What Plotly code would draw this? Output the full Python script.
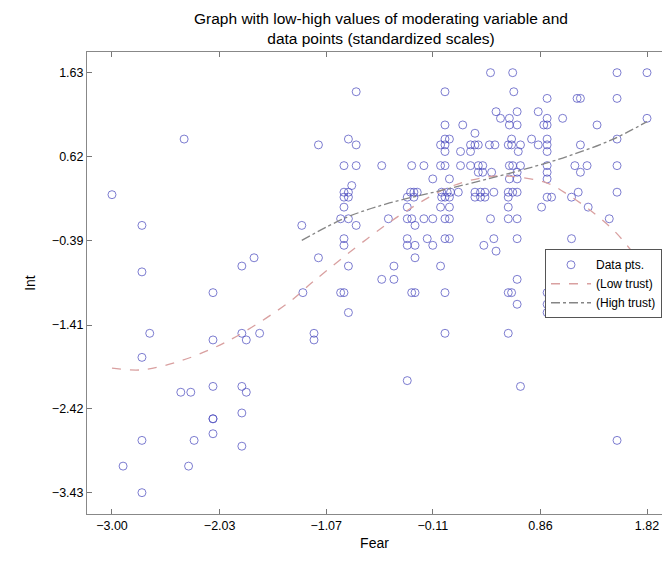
import plotly.graph_objects as go

# ---- Data (standardized scales) ----
fear = [
    0.41, 0.61, 1.55, 1.82,
    -0.80, 0.00, 0.62,
    0.92, 1.19, 1.22, 1.55,
    0.46, 0.65, 0.84,
    0.50, 0.58, 0.92, 1.06, 1.82,
    0.00, 0.16, 0.58, 0.65, 0.89, 0.92, 1.37,
    0.27,
    -2.35, -0.87, 0.00, 0.04, 0.60, 0.78, 0.92, 1.55,
    -1.14, -0.80, -0.04, 0.00, 0.23, 0.27, 0.30, 0.40, 0.45, 0.57, 0.60, 0.68, 0.84, 0.92, 1.22,
    0.00, 0.14, 0.23, 0.66, 0.92,
    -0.91, -0.80, -0.57, -0.30, -0.19, -0.04, 0.00, 0.14, 0.23, 0.30, 0.34, 0.58, 0.61, 0.68, 0.92, 1.17, 1.28, 1.55,
    0.30, 0.34, 0.42, 0.65, 0.92, 1.22,
    -0.11, 0.04, 0.58, 0.65, 0.92,
    -0.84,
    -3.00,
    -0.91, -0.87, -0.31, -0.28, -0.25, -0.03, 0.02, 0.05, 0.12, 0.27, 0.32, 0.36, 0.44, 0.57, 0.61, 0.65, 1.20, 1.55,
    -0.91, -0.87, -0.34, -0.28, -0.03, 0.00, 0.04, 0.27, 0.32, 0.36, 0.57, 0.92, 0.96, 1.14,
    -0.91, -0.34, -0.04, 0.04, 0.57, 0.87, 1.29,
    -0.94, -0.87, -0.51, -0.34, -0.30, -0.19, -0.11, 0.00, 0.04, 0.41, 0.57, 0.65, 1.48,
    -2.73, -1.29, -0.80, -0.27,
    -0.91, -0.34, -0.16, 0.00, 0.04, 0.44, 0.65, 1.14,
    -0.91, -0.34, -0.27, -0.11, 0.35,
    0.46,
    -1.72, -1.14, -0.27,
    -1.83, -0.87, -0.46, -0.04,
    -2.73,
    -0.57, -0.46, 0.65,
    -2.09, -1.28, -0.94, -0.91, -0.30, -0.27, 0.00, 0.57, 0.60, 0.92,
    0.65, 0.92,
    -0.87, 0.92, 1.48,
    -2.66, -1.83, -1.67, -1.18, 0.00, 0.57,
    -2.09, -1.79, -1.18,
    -2.73,
    -0.34,
    -2.09, -1.83, 0.68,
    -2.38, -2.29, -1.79,
    -1.83,
    -2.09, -2.09,
    -2.09,
    -2.73, -2.26, 1.55,
    -1.83,
    -2.90, -2.31,
    -2.73,
]
intent = (
    [1.63] * 4 + [1.40] * 3 + [1.32] * 4 + [1.16] * 3 + [1.08] * 5 + [1.00] * 7
    + [0.90] * 1 + [0.83] * 8 + [0.76] * 15 + [0.68] * 5 + [0.51] * 18 + [0.43] * 6
    + [0.35] * 5 + [0.27] * 1 + [0.16] * 1 + [0.19] * 18 + [0.13] * 14 + [0.01] * 7
    + [-0.13] * 13 + [-0.21] * 4 + [-0.37] * 8 + [-0.45] * 5 + [-0.52] * 1
    + [-0.60] * 3 + [-0.70] * 4 + [-0.77] * 1 + [-0.86] * 3 + [-1.02] * 10
    + [-1.16] * 2 + [-1.26] * 3 + [-1.51] * 6 + [-1.59] * 3 + [-1.80] * 1
    + [-2.08] * 1 + [-2.15] * 3 + [-2.22] * 3 + [-2.47] * 1 + [-2.54] * 2
    + [-2.72] * 1 + [-2.80] * 3 + [-2.87] * 1 + [-3.11] * 2 + [-3.43] * 1
)

# Moderation curves
low_x = [-3.00, -2.73, -2.40, -2.09, -1.83, -1.40, -1.19, -0.70, -0.34, 0.02,
         0.32, 0.55, 0.92, 1.13, 1.34, 1.52, 1.67, 1.82]
low_y = [-1.93, -1.95, -1.85, -1.69, -1.51, -1.13, -0.89, -0.37, -0.03, 0.24,
         0.36, 0.385, 0.30, 0.14, -0.06, -0.27, -0.50, -0.78]
high_x = [-1.29, -0.88, -0.50, -0.10, 0.30, 0.70, 1.10, 1.50, 1.82]
high_y = [-0.39, -0.11, 0.06, 0.19, 0.32, 0.46, 0.62, 0.82, 1.04]

tick_x = [-3.00, -2.03, -1.07, -0.11, 0.86, 1.82]
tick_y = [-3.43, -2.42, -1.41, -0.39, 0.62, 1.63]


def fmt(v):
    s = f"{abs(v):.2f}"
    return ("\u2212" + s) if v < 0 else s


FONT = "Liberation Sans, Arial, Helvetica, sans-serif"

fig = go.Figure()
fig.add_trace(go.Scatter(
    x=fear, y=intent, mode="markers", name="Data pts.",
    marker=dict(symbol="circle-open", size=8,
                color="rgba(75,75,190,0.72)", line=dict(width=1)),
))
fig.add_trace(go.Scatter(
    x=low_x, y=low_y, mode="lines", name="(Low trust)",
    line=dict(color="#d9a0a0", dash="dash", width=1.3, shape="spline"),
))
fig.add_trace(go.Scatter(
    x=high_x, y=high_y, mode="lines", name="(High trust)",
    line=dict(color="#858585", dash="dashdot", width=1.3, shape="spline"),
))

fig.update_layout(
    width=662, height=563,
    margin=dict(l=87, r=0, t=52, b=49, autoexpand=False),
    paper_bgcolor="white", plot_bgcolor="white",
    font=dict(family=FONT, size=13, color="black"),
    title=dict(
        text="Graph with low-high values of moderating variable and<br>data points (standardized scales)",
        x=381 / 662, xref="container", xanchor="center",
        y=1 - 24 / 563, yref="container", yanchor="middle",
        font=dict(family=FONT, size=15.5, color="black"),
    ),
    showlegend=True,
    legend=dict(
        x=0.7965, y=0.573, xanchor="left", yanchor="top",
        bgcolor="white", bordercolor="#555555", borderwidth=1,
        font=dict(family=FONT, size=12, color="black"),
        itemwidth=40, tracegroupgap=0,
    ),
)
fig.update_xaxes(
    range=[-3.225, 1.955], tickvals=tick_x, ticktext=[fmt(v) for v in tick_x],
    ticks="inside", ticklen=5, tickcolor="#777777", ticklabeloverflow="allow",
    tickfont=dict(size=12.5),
    showline=True, linecolor="#888888", linewidth=1, mirror="ticks",
    showgrid=False, zeroline=False,
    title=dict(text="Fear", standoff=6, font=dict(size=14)),
)
fig.update_yaxes(
    range=[-3.687, 1.879], tickvals=tick_y, ticktext=[fmt(v) for v in tick_y],
    ticks="inside", ticklen=5, tickcolor="#777777",
    tickfont=dict(size=12.5),
    showline=True, linecolor="#888888", linewidth=1, mirror=False,
    showgrid=False, zeroline=False,
    title=dict(text="Int", standoff=12, font=dict(size=14)),
)

fig.write_html(
    "out.html",
    config={"displayModeBar": False},
    post_script="document.body.style.margin='0';document.body.style.overflow='hidden';",
)
